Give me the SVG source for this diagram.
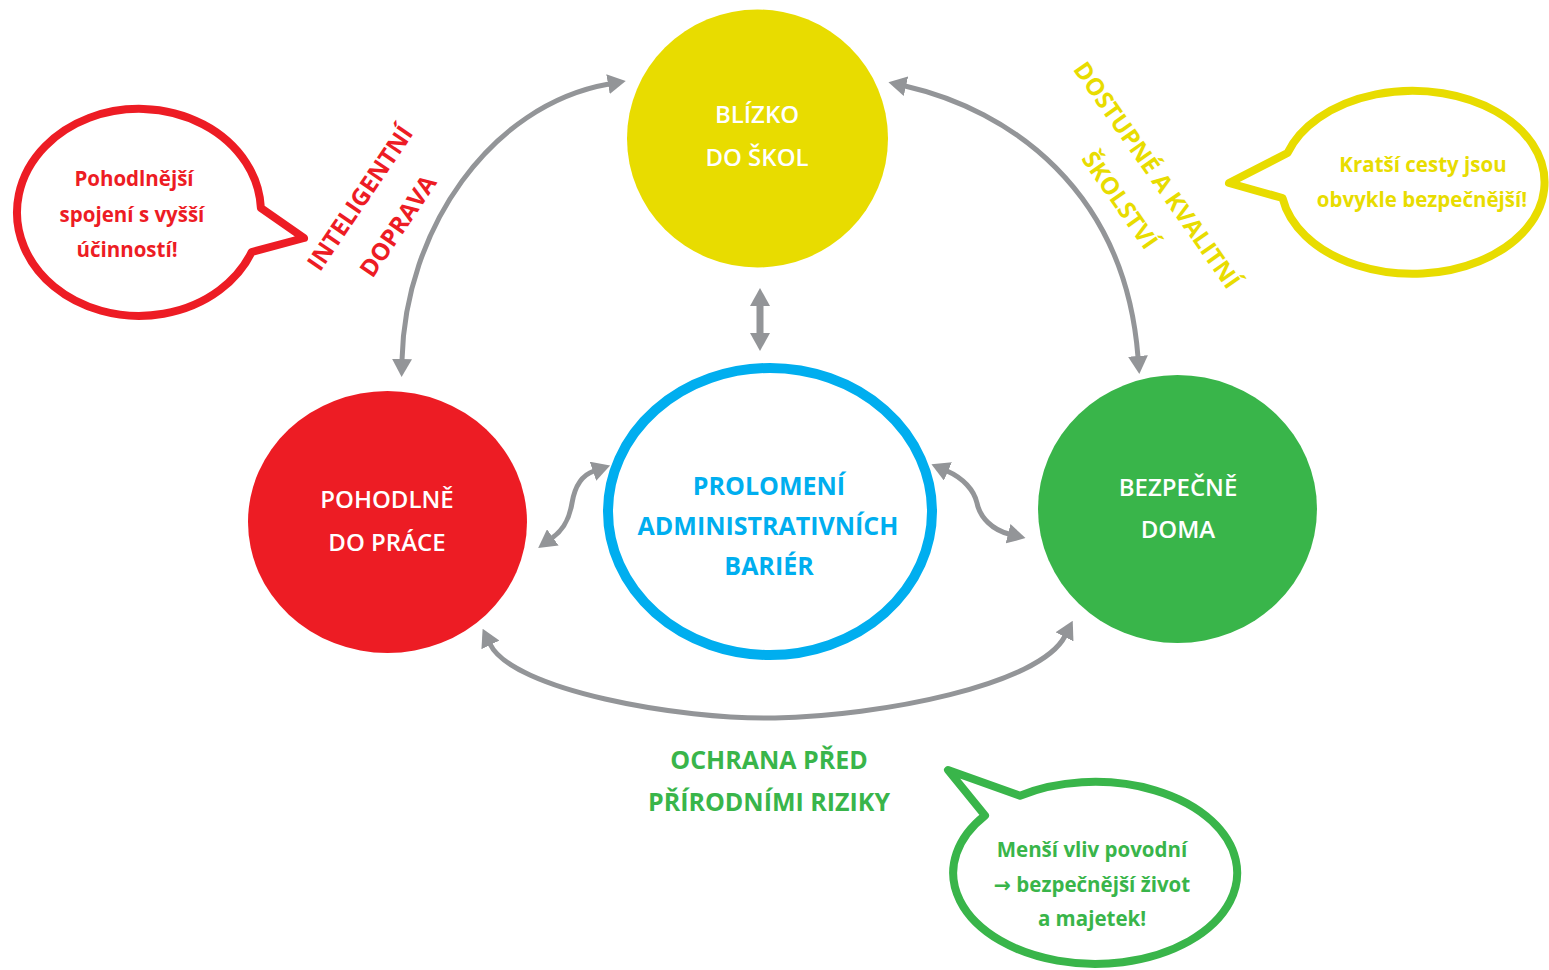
<svg xmlns="http://www.w3.org/2000/svg" width="1549" height="970" viewBox="0 0 1549 970">
<style>
.t{font-family:"Open Sans","Liberation Sans",sans-serif;text-anchor:middle}
.w{fill:#fff;font-weight:600;font-size:24px}
.b{font-weight:700}
.red{fill:#ED1C24}.yel{fill:#E8DC00}.grn{fill:#39B54A}.blu{fill:#00AEEF}
.conn{fill:none;stroke:#939598;stroke-width:5;marker-start:url(#ah);marker-end:url(#ah)}
.bub{fill:#fff;stroke-width:8;stroke-linejoin:round}
.arr{font-family:"DejaVu Sans",sans-serif;font-weight:700}
</style>
<defs>
<marker id="ah" viewBox="0 0 18 20" markerWidth="18" markerHeight="20" refX="1" refY="10" markerUnits="userSpaceOnUse" orient="auto-start-reverse">
<path d="M0,0 L18,10 L0,20 Z" fill="#939598"/>
</marker>
</defs>
<rect width="1549" height="970" fill="#fff"/>

<g id="connectors">
<path class="conn" d="M402,360 C405,230 490,105 609,84"/>
<path class="conn" d="M905,86 C1010,110 1125,190 1138,357"/>
<path class="conn" style="stroke-width:7" d="M760,305 L760,334"/>
<path class="conn" d="M552,538 C566,528 570,515 572,503 C575,485 582,475 594,471"/>
<path class="conn" d="M947,471 C963,478 974,490 977,503 C980,518 993,530 1009,534"/>
<path class="conn" d="M490,644 C512,690 680,720 775,718 C880,716 1040,685 1065,636"/>
</g>

<g id="node-blizko">
<ellipse cx="757.5" cy="138.5" rx="130.5" ry="129" fill="#E8DC00"/>
<text class="t w" x="757" y="123">BLÍZKO</text>
<text class="t w" x="757" y="166">DO ŠKOL</text>
</g>

<g id="node-pohodlne">
<ellipse cx="387.5" cy="522" rx="139.5" ry="131" fill="#ED1C24"/>
<text class="t w" x="387" y="508">POHODLNĚ</text>
<text class="t w" x="387" y="551">DO PRÁCE</text>
</g>

<g id="node-bezpecne">
<ellipse cx="1177.5" cy="509" rx="139.5" ry="134" fill="#39B54A"/>
<text class="t w" x="1178" y="496">BEZPEČNĚ</text>
<text class="t w" x="1178" y="538">DOMA</text>
</g>

<g id="node-prolomeni">
<ellipse cx="770" cy="511.5" rx="162" ry="143.5" fill="#fff" stroke="#00AEEF" stroke-width="10"/>
<text class="t b blu" style="font-size:25px" x="769" y="495">PROLOMENÍ</text>
<text class="t b blu" style="font-size:25px" x="768" y="535">ADMINISTRATIVNÍCH</text>
<text class="t b blu" style="font-size:25px" x="769" y="575">BARIÉR</text>
</g>

<g id="label-doprava">
<text class="t b red" style="font-size:24px" transform="translate(360,198) rotate(-56)" x="0" y="8.5">INTELIGENTNÍ</text>
<text class="t b red" style="font-size:24px" transform="translate(398,226) rotate(-56)" x="0" y="8.5">DOPRAVA</text>
</g>

<g id="label-skolstvi">
<text class="t b yel" style="font-size:24px" transform="translate(1157,175) rotate(55)" x="0" y="8.5">DOSTUPNÉ A KVALITNÍ</text>
<text class="t b yel" style="font-size:24px" transform="translate(1120,200) rotate(55)" x="0" y="8.5">ŠKOLSTVÍ</text>
</g>

<g id="label-rizika">
<text class="t b grn" style="font-size:25px" x="769" y="769">OCHRANA PŘED</text>
<text class="t b grn" style="font-size:25px" x="769" y="811">PŘÍRODNÍMI RIZIKY</text>
</g>

<g id="bubble-red">
<path class="bub" stroke="#ED1C24" d="M260.9,208 A122 103.5 0 1 0 251.7,252 L304,238 Z"/>
<text class="t b red" style="font-size:20.5px" x="134" y="186">Pohodlnější</text>
<text class="t b red" style="font-size:20.5px" x="132" y="222">spojení s vyšší</text>
<text class="t b red" style="font-size:20.5px" x="127" y="257">účinností!</text>
</g>

<g id="bubble-yellow">
<path class="bub" stroke="#E8DC00" d="M1287.5,153 A132 91.5 0 1 1 1282.5,198 L1229,183 Z"/>
<text class="t b yel" style="font-size:20.5px" x="1423" y="172">Kratší cesty jsou</text>
<text class="t b yel" style="font-size:20.5px" x="1422" y="207">obvykle bezpečnější!</text>
</g>

<g id="bubble-green">
<path class="bub" stroke="#39B54A" d="M1020,795.7 A142 91 0 1 1 985,815.5 L948,770 Z"/>
<text class="t b grn" style="font-size:20.5px" x="1092" y="857">Menší vliv povodní</text>
<text class="t b grn" style="font-size:20.5px" x="1092" y="892"><tspan class="arr">→</tspan> bezpečnější život</text>
<text class="t b grn" style="font-size:20.5px" x="1092" y="926">a majetek!</text>
</g>
</svg>
